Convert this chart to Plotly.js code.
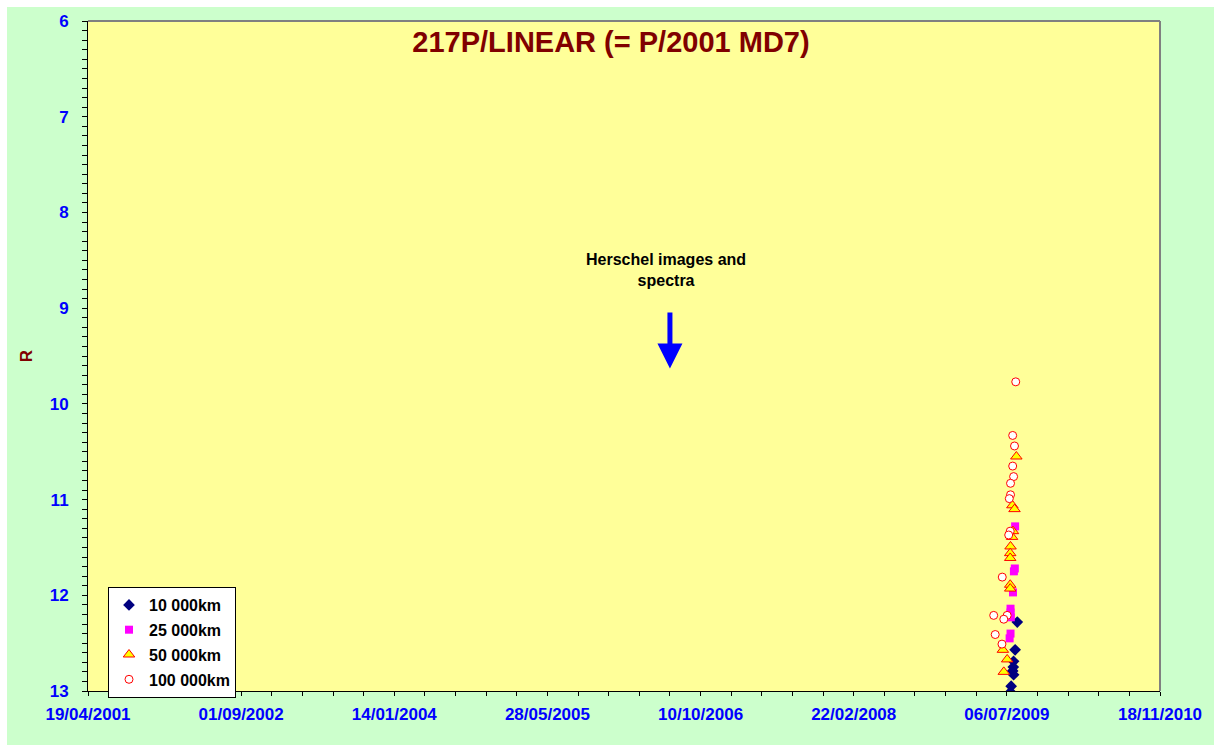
<!DOCTYPE html>
<html>
<head>
<meta charset="utf-8">
<script src="https://cdn.plot.ly/plotly-3.0.1.min.js"></script>
<style>
html,body{margin:0;padding:0;background:#ffffff;width:1219px;height:752px;overflow:hidden;}
#chart{position:absolute;left:7px;top:7px;width:1207px;height:738px;}
</style>
</head>
<body>
<div id="chart"></div>
<script>
// ---- data ----
var d10Dates = ['2009-08-09','2009-08-02','2009-07-28','2009-07-27','2009-07-25','2009-07-28','2009-07-20','2009-07-18'];
var d10Mag   = [12.28, 12.57, 12.69, 12.75, 12.79, 12.83, 12.95, 13.01];

var d25Dates = ['2009-08-02','2009-08-01','2009-07-29','2009-07-26','2009-07-18','2009-07-18','2009-07-19','2009-07-18','2009-07-15'];
var d25Mag   = [11.28, 11.72, 11.75, 11.97, 12.14, 12.18, 12.23, 12.40, 12.45];

var d50Dates = ['2009-08-06','2009-07-24','2009-07-31','2009-07-26','2009-07-23','2009-07-18','2009-07-17','2009-07-17','2009-07-17','2009-07-17','2009-06-23','2009-07-07','2009-06-26'];
var d50Mag   = [10.55, 11.06, 11.10, 11.33, 11.39, 11.49, 11.56, 11.61, 11.89, 11.93, 12.57, 12.67, 12.80];

var d100Dates = ['2009-08-04','2009-07-25','2009-07-31','2009-07-25','2009-07-28','2009-07-18','2009-07-18','2009-07-14','2009-07-17','2009-07-12','2009-06-21','2009-05-24','2009-07-07','2009-06-26','2009-05-29','2009-06-20'];
var d100Mag   = [9.77, 10.33, 10.44, 10.65, 10.76, 10.83, 10.95, 10.99, 11.33, 11.37, 11.81, 12.21, 12.21, 12.25, 12.41, 12.51];

var seriesNames = ['10 000km', '25 000km', '50 000km', '100 000km'];
var chartTitle = '217P/LINEAR (= P/2001 MD7)';
var yTitle = 'R';
var noteText = 'Herschel images and<br>spectra';
var noteDate = '2006-06-19';
var noteMag = 8.60;
var arrowDate = '2006-07-02';
var arrowFrom = 9.03;
var arrowTo = 9.63;
var xStart = '2001-04-19';
var xEnd = '2010-11-18';
var yMin = 6, yMax = 13;
// ------------------------------------------------

var FONT = 'Liberation Sans, Arial, sans-serif';
var DAY = 86400000;

var traces = [
  {x: d10Dates, y: d10Mag, name: seriesNames[0], type: 'scatter', mode: 'markers',
   marker: {symbol: 'diamond', size: 9, color: '#000080', line: {width: 0}}},
  {x: d25Dates, y: d25Mag, name: seriesNames[1], type: 'scatter', mode: 'markers',
   marker: {symbol: 'square', size: 8, color: '#ff00ff', line: {width: 0}}},
  {x: d50Dates, y: d50Mag, name: seriesNames[2], type: 'scatter', mode: 'markers',
   marker: {symbol: 'triangle-up', size: 10, color: '#ffff00', line: {width: 1, color: '#ff0000'}}},
  {x: d100Dates, y: d100Mag, name: seriesNames[3], type: 'scatter', mode: 'markers',
   marker: {symbol: 'circle', size: 8, color: '#ffffff', line: {width: 1, color: '#ff0000'}}}
];
traces.forEach(function(t, i){ t.legendgroup = 'g' + i; t.cliponaxis = true; });

var layout = {
  width: 1207, height: 738,
  paper_bgcolor: '#ccffcc',
  plot_bgcolor: '#ffff99',
  margin: {l: 81, r: 54, t: 14, b: 54, pad: 0},
  showlegend: true,
  title: {
    text: chartTitle,
    font: {family: FONT, size: 29, color: '#800000', weight: 'bold'},
    xref: 'container', x: 0.5004, xanchor: 'center',
    yref: 'container', y: 1 - 35/738, yanchor: 'middle'
  },
  xaxis: {
    type: 'date',
    range: [xStart, xEnd],
    autorange: false,
    tick0: xStart,
    dtick: 500 * DAY,
    tickformat: '%d/%m/%Y',
    ticks: 'outside', ticklen: 4, tickwidth: 1, tickcolor: '#000000',
    minor: {tick0: xStart, dtick: 100 * DAY, ticks: 'outside', ticklen: 4, tickwidth: 1, tickcolor: '#000000', showgrid: false},
    showline: true, linecolor: '#000000', linewidth: 1,
    showgrid: false, zeroline: false,
    tickfont: {family: FONT, size: 17, color: '#0000ff', weight: 'bold'},
    ticklabelstandoff: 4,
    fixedrange: true
  },
  yaxis: {
    range: [yMax, yMin],
    autorange: false,
    tick0: 6, dtick: 1,
    ticks: 'outside', ticklen: 5, tickwidth: 1, tickcolor: '#000000',
    minor: {dtick: 0.1, ticks: 'outside', ticklen: 5, tickwidth: 1, tickcolor: '#000000', showgrid: false},
    showline: true, linecolor: '#000000', linewidth: 1,
    showgrid: false, zeroline: false,
    tickfont: {family: FONT, size: 17, color: '#0000ff', weight: 'bold'},
    ticklabelstandoff: 10,
    title: {text: yTitle, font: {family: FONT, size: 17, color: '#800000', weight: 'bold'}, standoff: 12},
    fixedrange: true
  },
  legend: {
    x: 20/1072, y: 104/670, xanchor: 'left', yanchor: 'top',
    bgcolor: '#ffffff', bordercolor: '#000000', borderwidth: 1,
    font: {family: FONT, size: 16, color: '#000000', weight: 'bold'},
    traceorder: 'grouped', tracegroupgap: 1,
    itemwidth: 30
  },
  shapes: [
    {type: 'line', xref: 'paper', yref: 'paper', x0: 0, x1: 1, y0: 1, y1: 1, line: {color: '#808080', width: 2}},
    {type: 'line', xref: 'paper', yref: 'paper', x0: 1, x1: 1, y0: 0, y1: 1, line: {color: '#808080', width: 2}}
  ],
  annotations: [
    {x: noteDate, y: noteMag, xref: 'x', yref: 'y', text: noteText, showarrow: false,
     font: {family: FONT, size: 16, color: '#000000', weight: 'bold'}, align: 'center'},
    {x: arrowDate, y: arrowTo, xref: 'x', yref: 'y', ax: arrowDate, ay: arrowFrom, axref: 'x', ayref: 'y',
     text: '', showarrow: true, arrowhead: 2, arrowsize: 1, arrowwidth: 5, arrowcolor: '#0000ff', standoff: 0}
  ]
};

Plotly.newPlot('chart', traces, layout, {displayModeBar: false, staticPlot: true});
</script>
</body>
</html>
